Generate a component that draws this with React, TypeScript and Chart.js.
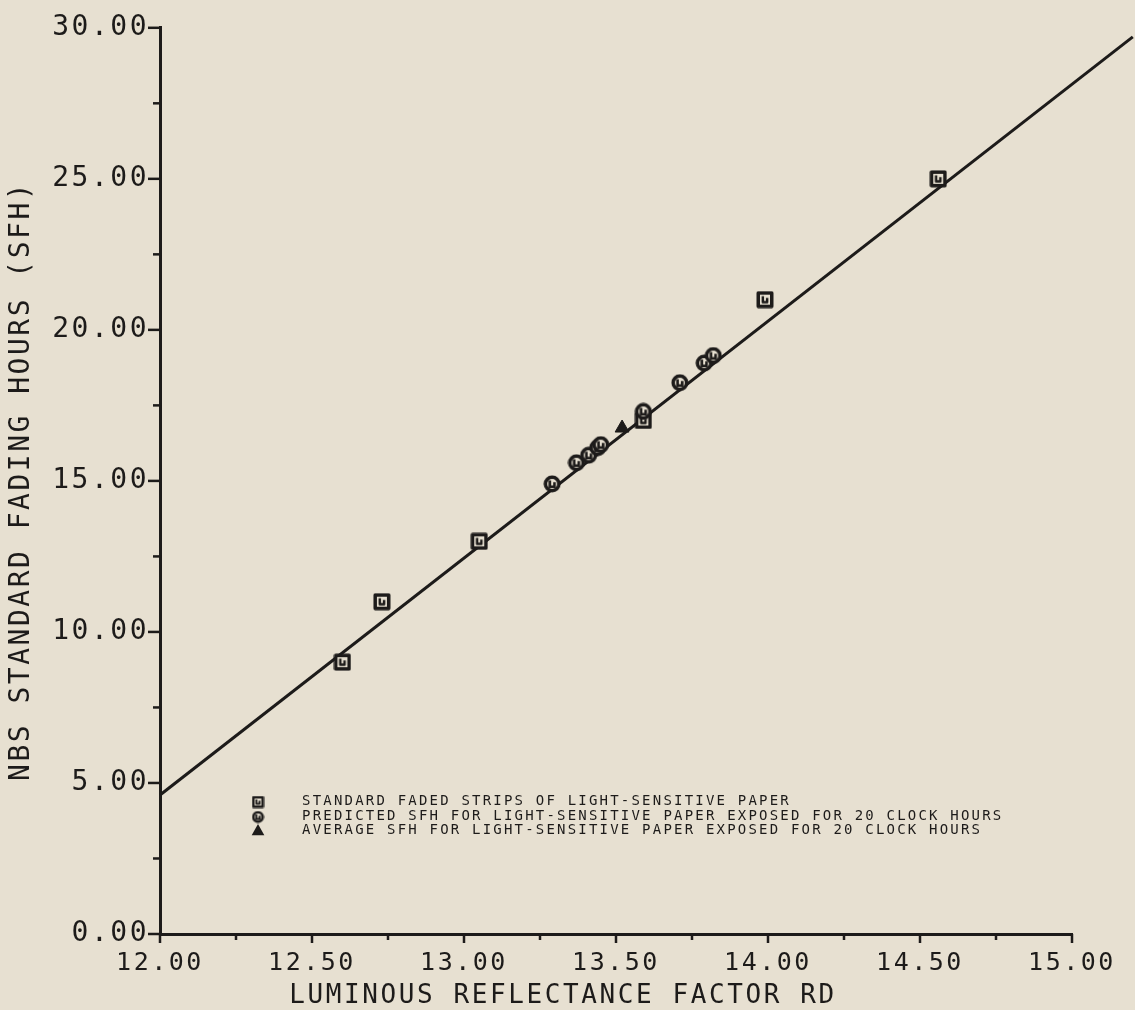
import React, { useEffect, useRef } from "react";
import { Chart, registerables } from "chart.js";

Chart.register(...registerables);

// ---- data ----
const squareX = [12.6, 12.73, 13.05, 13.59, 13.99, 14.56];
const squareY = [9.0, 11.0, 13.0, 17.0, 21.0, 25.0];
const circleX = [13.29, 13.37, 13.41, 13.44, 13.45, 13.59, 13.71, 13.79, 13.82];
const circleY = [14.9, 15.6, 15.85, 16.1, 16.2, 17.3, 18.25, 18.9, 19.15];
const triangleX = [13.52];
const triangleY = [16.75];
const fitX = [12.0, 15.2];
const fitY = [4.6, 29.7];

const xMajorTicks = [12.0, 12.5, 13.0, 13.5, 14.0, 14.5, 15.0];
const xMinorTicks = [12.25, 12.75, 13.25, 13.75, 14.25, 14.75];
const yMajorTicks = [0, 5, 10, 15, 20, 25, 30];
const yMinorTicks = [2.5, 7.5, 12.5, 17.5, 22.5, 27.5];

const xTitle = "LUMINOUS REFLECTANCE FACTOR RD";
const yTitle = "NBS STANDARD FADING HOURS (SFH)";
const legendLabels = [
  "STANDARD FADED STRIPS OF LIGHT-SENSITIVE PAPER",
  "PREDICTED SFH FOR LIGHT-SENSITIVE PAPER EXPOSED FOR 20 CLOCK HOURS",
  "AVERAGE SFH FOR LIGHT-SENSITIVE PAPER EXPOSED FOR 20 CLOCK HOURS",
];

const BG = "#e7e0d1";
const INK = "#1d1b1a";
const FONT = '"DejaVu Sans Mono", "Liberation Mono", monospace';

function markerSquare(size: number, lw: number): HTMLCanvasElement {
  const c = document.createElement("canvas");
  c.width = size;
  c.height = size;
  const g = c.getContext("2d")!;
  g.fillStyle = BG;
  g.strokeStyle = INK;
  g.lineWidth = lw;
  g.lineJoin = "round";
  const o = lw / 2 + 0.5;
  g.beginPath();
  g.rect(o, o, size - 2 * o, size - 2 * o);
  g.fill();
  g.stroke();
  g.lineWidth = Math.max(1.5, lw * 0.7);
  g.beginPath();
  g.moveTo(size * 0.38, size * 0.3);
  g.lineTo(size * 0.38, size * 0.64);
  g.lineTo(size * 0.62, size * 0.64);
  g.lineTo(size * 0.62, size * 0.4);
  g.stroke();
  return c;
}

function markerCircle(size: number, lw: number): HTMLCanvasElement {
  const c = document.createElement("canvas");
  c.width = size;
  c.height = size;
  const g = c.getContext("2d")!;
  g.fillStyle = BG;
  g.strokeStyle = INK;
  g.lineWidth = lw;
  g.beginPath();
  g.arc(size / 2, size / 2, size / 2 - lw / 2 - 0.5, 0, Math.PI * 2);
  g.fill();
  g.stroke();
  g.lineWidth = Math.max(1.8, lw * 0.75);
  g.beginPath();
  g.moveTo(size * 0.37, size * 0.3);
  g.lineTo(size * 0.37, size * 0.65);
  g.lineTo(size * 0.63, size * 0.65);
  g.lineTo(size * 0.63, size * 0.4);
  g.stroke();
  return c;
}

function drawTriangle(ctx: CanvasRenderingContext2D, x: number, y: number, r: number) {
  ctx.beginPath();
  ctx.moveTo(x, y - r);
  ctx.lineTo(x + r * 0.9, y + r * 0.6);
  ctx.lineTo(x - r * 0.9, y + r * 0.6);
  ctx.closePath();
  ctx.fill();
}

export default function App() {
  const ref = useRef<HTMLCanvasElement | null>(null);

  useEffect(() => {
    document.body.style.margin = "0";
    document.body.style.background = BG;
    const canvas = ref.current;
    if (!canvas) return;

    const sq = markerSquare(18, 3.5);
    const ci = markerCircle(18, 3.5);
    const sqSmall = markerSquare(13, 2.6);
    const ciSmall = markerCircle(13, 2.6);

    const paper = {
      id: "paper",
      beforeUpdate(chart: any) {
        chart.ctx.letterSpacing = "2.5px";
      },
      beforeDraw(chart: any) {
        const ctx = chart.ctx as CanvasRenderingContext2D;
        ctx.save();
        ctx.fillStyle = BG;
        ctx.fillRect(0, 0, chart.width, chart.height);
        ctx.restore();
        (ctx as any).letterSpacing = "2.5px";
      },
      afterDraw(chart: any) {
        const ctx = chart.ctx as CanvasRenderingContext2D;
        const { chartArea, scales } = chart;
        ctx.save();
        ctx.strokeStyle = INK;
        ctx.lineWidth = 2.5;
        const tick = (x1: number, y1: number, x2: number, y2: number) => {
          ctx.beginPath();
          ctx.moveTo(x1, y1);
          ctx.lineTo(x2, y2);
          ctx.stroke();
        };
        for (const v of yMajorTicks) {
          const p = scales.y.getPixelForValue(v);
          tick(chartArea.left - 12, p, chartArea.left, p);
        }
        for (const v of yMinorTicks) {
          const p = scales.y.getPixelForValue(v);
          tick(chartArea.left - 7, p, chartArea.left, p);
        }
        for (const v of xMajorTicks) {
          const p = scales.x.getPixelForValue(v);
          tick(p, chartArea.bottom, p, chartArea.bottom + 9);
        }
        for (const v of xMinorTicks) {
          const p = scales.x.getPixelForValue(v);
          tick(p, chartArea.bottom, p, chartArea.bottom + 6);
        }

        // x axis title
        ctx.fillStyle = INK;
        ctx.font = `26px ${FONT}`;
        (ctx as any).letterSpacing = "2.6px";
        ctx.textAlign = "center";
        ctx.textBaseline = "middle";
        ctx.fillText(xTitle, 563, 996);

        // legend
        const lx = 258;
        const ly = [802, 817, 831];
        ctx.drawImage(sqSmall, lx - sqSmall.width / 2, ly[0] - sqSmall.height / 2);
        ctx.drawImage(ciSmall, lx - ciSmall.width / 2, ly[1] - ciSmall.height / 2);
        drawTriangle(ctx, lx, ly[2], 7);
        ctx.font = `14px ${FONT}`;
        (ctx as any).letterSpacing = "2.2px";
        ctx.textBaseline = "middle";
        ctx.textAlign = "left";
        legendLabels.forEach((t, i) => ctx.fillText(t, 302, ly[i] - 1));
        ctx.restore();
      },
    };

    const chart = new Chart(canvas, {
      type: "scatter",
      data: {
        datasets: [
          {
            label: "fit",
            data: fitX.map((x, i) => ({ x, y: fitY[i] })),
            showLine: true,
            borderColor: INK,
            borderWidth: 3,
            pointRadius: 0,
            clip: false as any,
            order: 10,
          },
          {
            label: legendLabels[0],
            data: squareX.map((x, i) => ({ x, y: squareY[i] })),
            pointStyle: sq as any,
            pointRadius: 9,
            order: 2,
          },
          {
            label: legendLabels[1],
            data: circleX.map((x, i) => ({ x, y: circleY[i] })),
            pointStyle: ci as any,
            pointRadius: 9,
            order: 1,
          },
          {
            label: legendLabels[2],
            data: triangleX.map((x, i) => ({ x, y: triangleY[i] })),
            pointStyle: "triangle",
            pointRadius: 8,
            backgroundColor: INK,
            borderColor: INK,
            borderWidth: 1,
            order: 3,
          },
        ],
      },
      options: {
        responsive: false,
        animation: false,
        devicePixelRatio: 1,
        layout: { padding: { top: 25, right: 63, left: 0, bottom: 0 } },
        plugins: {
          legend: { display: false },
          tooltip: { enabled: false },
          title: { display: false },
        },
        scales: {
          x: {
            type: "linear",
            min: 12,
            max: 15,
            afterBuildTicks: (s: any) => {
              s.ticks = xMajorTicks.map((v) => ({ value: v }));
            },
            afterFit: (s: any) => {
              s.height = 76;
            },
            grid: { display: false, drawTicks: false },
            border: { display: true, color: INK, width: 3 },
            ticks: {
              autoSkip: false,
              maxRotation: 0,
              padding: 14,
              color: INK,
              font: { family: FONT, size: 25 },
              callback: (v: any) => Number(v).toFixed(2),
            },
          },
          y: {
            type: "linear",
            min: 0,
            max: 30,
            afterBuildTicks: (s: any) => {
              s.ticks = yMajorTicks.map((v) => ({ value: v }));
            },
            afterFit: (s: any) => {
              s.width = 160;
            },
            grid: { display: false, drawTicks: false },
            border: { display: true, color: INK, width: 3 },
            ticks: {
              autoSkip: false,
              padding: 11,
              color: INK,
              font: { family: FONT, size: 28 },
              callback: (v: any) => Number(v).toFixed(2),
            },
            title: {
              display: true,
              text: yTitle,
              color: INK,
              font: { family: FONT, size: 28, lineHeight: 1 },
              padding: { top: 8, bottom: 0 },
            },
          },
        },
      },
      plugins: [paper],
    } as any);

    return () => chart.destroy();
  }, []);

  return (
    <div style={{ width: 1135, height: 1010, background: BG }}>
      <canvas ref={ref} width={1135} height={1010} style={{ display: "block" }} />
    </div>
  );
}
